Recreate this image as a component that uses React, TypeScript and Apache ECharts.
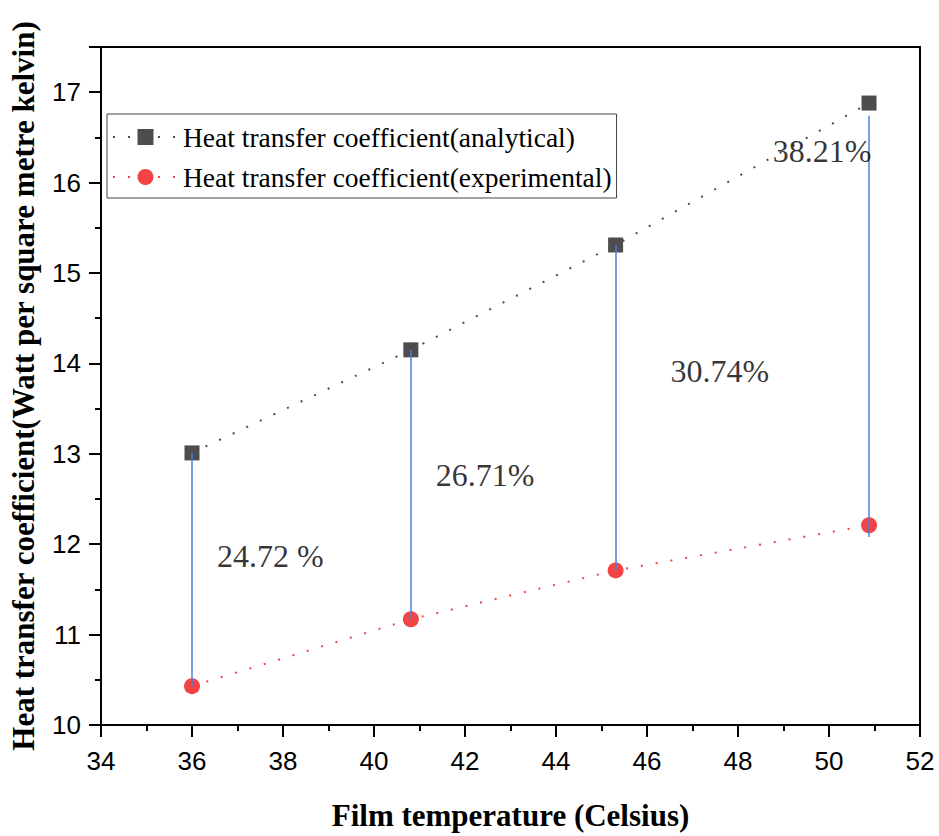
import React, { useEffect, useRef } from "react";
import * as echarts from "echarts";

const filmTemp = [36.0, 40.81, 45.31, 50.88];
const analytical = [13.01, 14.15, 15.31, 16.88];
const experimental = [10.43, 11.17, 11.71, 12.21];
const diffTop = [13.01, 14.15, 15.31, 16.74];
const diffBottom = [10.43, 11.17, 11.71, 12.08];
const diffLabels = ["24.72 %", "26.71%", "30.74%", "38.21%"];
const diffLabelX = [37.72, 42.44, 47.6, 49.85];
const diffLabelY = [11.87, 12.77, 13.92, 16.35];
const seriesNames = [
  "Heat transfer coefficient(analytical)",
  "Heat transfer coefficient(experimental)",
];

export default function App() {
  const ref = useRef<HTMLDivElement>(null);
  useEffect(() => {
    const chart = echarts.init(ref.current!, null, { renderer: "svg" });
    const serif = "'Liberation Serif', 'Times New Roman', serif";
    const sans = "'Liberation Sans', Arial, sans-serif";
    chart.setOption({
      animation: false,
      backgroundColor: "#fff",
      grid: {
        left: 101,
        right: 19,
        top: 47,
        bottom: 109,
        show: true,
        borderColor: "#000",
        borderWidth: 2,
      },
      legend: {
        data: seriesNames,
        orient: "vertical",
        left: 107,
        top: 114,
        itemWidth: 65,
        itemHeight: 20,
        itemGap: 12,
        padding: [9, 5, 7, 5],
        borderColor: "#444",
        borderWidth: 1,
        textStyle: { fontFamily: serif, fontSize: 27.5, color: "#000" },
      },
      xAxis: {
        type: "value",
        min: 34,
        max: 52,
        interval: 2,
        name: "Film temperature (Celsius)",
        nameLocation: "middle",
        nameGap: 75,
        nameTextStyle: { fontFamily: serif, fontSize: 31, fontWeight: "bold", color: "#000" },
        axisLine: { show: true, onZero: false, lineStyle: { color: "#000", width: 2 } },
        axisTick: { show: true, inside: false, length: 12, lineStyle: { color: "#000", width: 2 } },
        minorTick: { show: true, splitNumber: 2, length: 6, lineStyle: { color: "#000", width: 2 } },
        axisLabel: { fontFamily: sans, fontSize: 26, color: "#000", margin: 23 },
        splitLine: { show: false },
      },
      yAxis: {
        type: "value",
        min: 10,
        max: 17.5,
        interval: 1,
        name: "Heat transfer coefficient(Watt per square metre kelvin)",
        nameLocation: "middle",
        nameGap: 62,
        nameTextStyle: { fontFamily: serif, fontSize: 31, fontWeight: "bold", color: "#000" },
        axisLine: { show: true, onZero: false, lineStyle: { color: "#000", width: 2 } },
        axisTick: { show: true, inside: false, length: 12, lineStyle: { color: "#000", width: 2 } },
        minorTick: { show: true, splitNumber: 2, length: 6, lineStyle: { color: "#000", width: 2 } },
        axisLabel: { fontFamily: sans, fontSize: 26, color: "#000", margin: 20, showMaxLabel: false },
        splitLine: { show: false },
      },
      series: [
        {
          name: seriesNames[0],
          type: "line",
          data: filmTemp.map((x, i) => [x, analytical[i]]),
          symbol: "rect",
          symbolSize: 15,
          itemStyle: { color: "#4d4d4d" },
          lineStyle: { color: "#4d4d4d", width: 2, type: [2, 13] },
          z: 2,
        },
        {
          name: seriesNames[1],
          type: "line",
          data: filmTemp.map((x, i) => [x, experimental[i]]),
          symbol: "circle",
          symbolSize: 16,
          itemStyle: { color: "#f24444" },
          lineStyle: { color: "#f24444", width: 2, type: [2, 13] },
          z: 2,
        },
        {
          name: "diff",
          type: "scatter",
          symbolSize: 0,
          itemStyle: { color: "#000" },
          data: diffLabelX.map((x, i) => ({ value: [x, diffLabelY[i]], name: diffLabels[i] })),
          label: {
            show: true,
            position: "inside",
            formatter: (p: any) => p.name,
            fontFamily: serif,
            fontSize: 32,
            color: "#000",
            textBorderWidth: 0,
          },
          markLine: {
            silent: true,
            symbol: "none",
            label: { show: false },
            lineStyle: { color: "#4a7fd8", width: 1.5, type: "solid" },
            data: filmTemp.map((x, i) => [
              { coord: [x, diffTop[i]] },
              { coord: [x, diffBottom[i]] },
            ]),
          },
          z: 5,
        },
      ],
    });
    return () => chart.dispose();
  }, []);
  return (
    <div
      ref={ref}
      style={{ position: "fixed", left: 0, top: 0, width: 939, height: 836 }}
    />
  );
}
